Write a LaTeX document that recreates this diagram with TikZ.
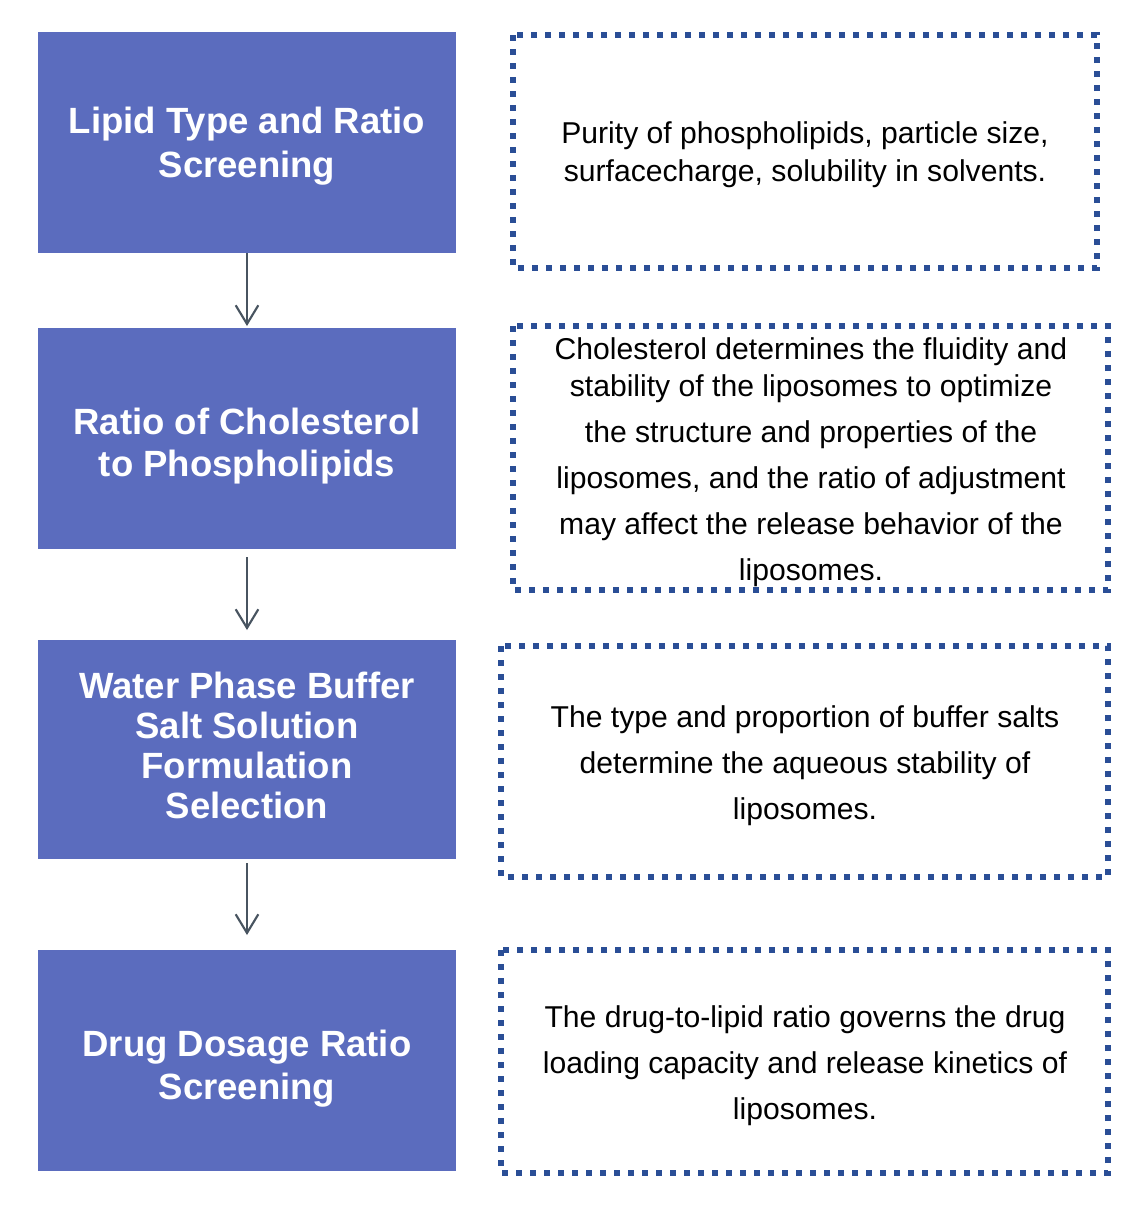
\documentclass[tikz,border=0pt]{standalone}
\usepackage{fontspec}
\setmainfont{Liberation Sans}
\usetikzlibrary{arrows.meta}
\definecolor{stepblue}{RGB}{91,108,190}
\definecolor{dotblue}{RGB}{42,78,150}
\definecolor{arrowgray}{RGB}{72,84,96}
\tikzset{
  stepbox/.style={fill=stepblue, draw=none, text=white, align=center,
    font=\bfseries\fontsize{27.4}{31.5}\selectfont},
  notebox/.style={draw=dotblue, line width=4.4pt, line cap=butt,
    dash pattern=on 4.6pt off 5.9pt, align=center,
    font=\fontsize{22.6}{34.5}\selectfont},
  flow/.style={draw=arrowgray, line width=1.6pt,
    -{Straight Barb[length=14pt,width=17pt,line width=1.6pt]}},
}
\begin{document}
\begin{tikzpicture}[x=0.75pt,y=-0.75pt]
\useasboundingbox (0,0) rectangle (1142,1214);
\fill[white] (0,0) rectangle (1142,1214);
% left step boxes
\path[stepbox] (38,32) rectangle (456,253);
\node[stepbox, font=\bfseries\fontsize{27.4}{33}\selectfont] (s1) at (247,146.5) {Lipid Type and Ratio\\Screening};
\path[stepbox] (38,328) rectangle (456,549);
\node[stepbox] (s2) at (247,446) {Ratio of Cholesterol\\to Phospholipids};
\path[stepbox] (38,640) rectangle (456,859);
\node[stepbox, font=\bfseries\fontsize{27.4}{30}\selectfont] (s3) at (247,745) {Water Phase Buffer\\Salt Solution\\Formulation\\Selection};
\path[stepbox] (38,950) rectangle (456,1171);
\node[stepbox, font=\bfseries\fontsize{27.4}{32.3}\selectfont] (s4) at (247,1069) {Drug Dosage Ratio\\Screening};
% anchors for arrows
\coordinate (a1s) at (247,253);
\coordinate (a1e) at (247,326);
\coordinate (a2s) at (247,557);
\coordinate (a2e) at (247,630);
\coordinate (a3s) at (247,863);
\coordinate (a3e) at (247,935);
\draw[flow] (a1s) -- (a1e);
\draw[flow] (a2s) -- (a2e);
\draw[flow] (a3s) -- (a3e);
% right note boxes
\draw[notebox] (513,35) rectangle (1097,268);
\node[notebox, draw=none, font=\fontsize{22.6}{28.5}\selectfont] (n1) at (805,155) {Purity of phospholipids, particle size,\\surfacecharge, solubility in solvents.};
\draw[notebox] (513,326) rectangle (1108,590);
\node[notebox, draw=none] (n2) at (811,462.5) {Cholesterol determines the fluidity and\\[-6.5pt]stability of the liposomes to optimize\\the structure and properties of the\\liposomes, and the ratio of adjustment\\may affect the release behavior of the\\liposomes.};
\draw[notebox] (501,646) rectangle (1108,877);
\node[notebox, draw=none] (n3) at (805,765.5) {The type and proportion of buffer salts\\determine the aqueous stability of\\liposomes.};
\draw[notebox] (501,950) rectangle (1108,1173);
\node[notebox, draw=none] (n4) at (805,1066) {The drug-to-lipid ratio governs the drug\\loading capacity and release kinetics of\\liposomes.};
\end{tikzpicture}
\end{document}
